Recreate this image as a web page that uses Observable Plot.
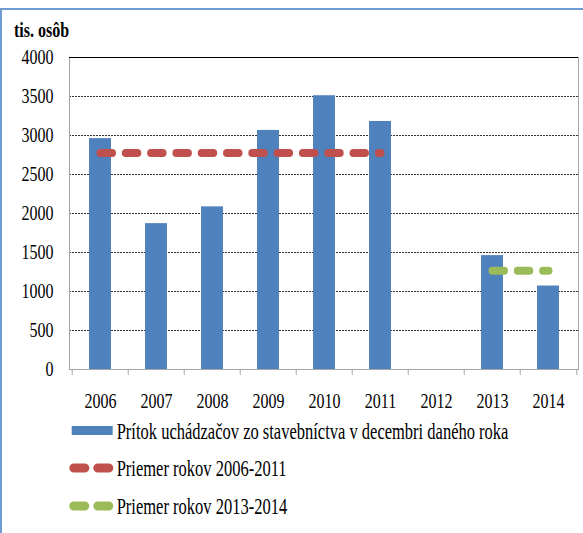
<!DOCTYPE html>
<html>
<head>
<meta charset="utf-8">
<script src="https://cdn.jsdelivr.net/npm/d3@7"></script>
<script src="https://cdn.jsdelivr.net/npm/@observablehq/plot@0.6"></script>
<style>
  html, body { margin: 0; padding: 0; background: #fff; overflow: hidden; }
  #wrap { position: relative; width: 583px; height: 533px; overflow: hidden; font-family: "Liberation Serif", "Times New Roman", serif; color: #000; }
  #border { position: absolute; left: 0px; top: 8px; width: 700px; height: 700px; border-left: 2px solid #6F9BD3; border-top: 2px solid #6F9BD3; }
  #plot { position: absolute; left: 0; top: 0; }
  .ttl { position: absolute; left: 14px; top: 23.9px; font-size: 16px; line-height: 16px; font-weight: bold; white-space: nowrap; transform: scaleY(1.25); transform-origin: 0 13.4px; }
  .lgtext { position: absolute; left: 116.7px; font-size: 16.5px; line-height: 16px; white-space: nowrap; transform: scaleY(1.35); transform-origin: 0 13.6px; }
  .sw { position: absolute; left: 0; top: 0; }
</style>
</head>
<body>
<div id="wrap">
  <div id="border"></div>
  <div id="plot"></div>
  <div class="ttl">tis. osôb</div>
</div>
<script>
// ---- data ----
const years = ["2006", "2007", "2008", "2009", "2010", "2011", "2012", "2013", "2014"];
const inflow = [2960, 1870, 2085, 3065, 3510, 3180, null, 1460, 1070];
const avg1Years = ["2006", "2011"];
const avg1Values = [2775, 2775];
const avg2Years = ["2013", "2014"];
const avg2Values = [1265, 1265];
const yTicks = [0, 500, 1000, 1500, 2000, 2500, 3000, 3500, 4000];
const legendLabels = [
  "Prítok uchádzačov zo stavebníctva v decembri daného roka",
  "Priemer rokov 2006-2011",
  "Priemer rokov 2013-2014"
];
const colors = { bar: "#4F81BD", avg1: "#C0504D", avg2: "#9BBB59" };

const bars = years.map((y, i) => ({ year: y, value: inflow[i] })).filter(d => d.value != null);
const line1 = avg1Years.map((y, i) => ({ year: y, value: avg1Values[i] }));
const line2 = avg2Years.map((y, i) => ({ year: y, value: avg2Values[i] }));

const W = 583, H = 420, mL = 69, mR = 5, mT = 57, mB = 51;
const bw = (W - mL - mR) / years.length;

const chart = Plot.plot({
  width: W,
  height: H,
  marginLeft: mL,
  marginRight: mR,
  marginTop: mT,
  marginBottom: mB,
  style: { fontFamily: "'Liberation Serif', 'Times New Roman', serif", fontSize: "16px", color: "#000", background: "transparent", overflow: "visible" },
  x: { domain: years, padding: 0, label: null, axis: null },
  y: { domain: [0, 4000], label: null, axis: null },
  marks: [
    Plot.gridY(yTicks.filter(v => v > 0 && v < 4000), { stroke: "#333", strokeOpacity: 1, strokeWidth: 1, strokeDasharray: "2,1" }),
    Plot.frame({ stroke: "#A6A6A6" }),
    Plot.ruleY([4000], { stroke: "#000", strokeWidth: 1.2 }),
    Plot.axisY({ ticks: yTicks, tickSize: 0, tickPadding: 16, fontSize: 16, tickFormat: d => String(d), label: null }),
    Plot.axisX({ tickSize: 6, tickFormat: () => "", dx: -bw / 2, stroke: "#A6A6A6", label: null }),
    Plot.axisX({ ticks: [years[years.length - 1]], tickSize: 6, tickFormat: () => "", dx: bw / 2, stroke: "#A6A6A6", label: null }),
    Plot.axisX({ tickSize: 0, tickPadding: 23.5, fontSize: 16, label: null }),
    Plot.barY(bars, { x: "year", y: "value", fill: colors.bar, insetLeft: 17, insetRight: 17 }),
    Plot.lineY(line1, { x: "year", y: "value", stroke: colors.avg1, strokeWidth: 8, strokeDasharray: "11.5,13.8", strokeLinecap: "round" }),
    Plot.lineY(line2, { x: "year", y: "value", stroke: colors.avg2, strokeWidth: 8, strokeDasharray: "11.5,13.8", strokeLinecap: "round" })
  ]
});

// stretch axis labels vertically like the reference rendering
chart.querySelectorAll('g[aria-label$="tick label"] text').forEach(t => {
  const tr = t.getAttribute("transform") || "";
  t.setAttribute("transform", tr + " scale(1,1.3)");
});
document.getElementById("plot").appendChild(chart);

// ---- legend (HTML + small swatches) ----
const wrap = document.getElementById("wrap");
const ns = "http://www.w3.org/2000/svg";
const sw = document.createElementNS(ns, "svg");
sw.setAttribute("class", "sw");
sw.setAttribute("width", 583);
sw.setAttribute("height", 533);
const r = document.createElementNS(ns, "rect");
r.setAttribute("x", 71.7); r.setAttribute("y", 426); r.setAttribute("width", 41); r.setAttribute("height", 9);
r.setAttribute("fill", colors.bar);
sw.appendChild(r);
[[468, colors.avg1], [506, colors.avg2]].forEach(([y, c]) => {
  const l = document.createElementNS(ns, "line");
  l.setAttribute("x1", 73.8); l.setAttribute("x2", 108.8);
  l.setAttribute("y1", y); l.setAttribute("y2", y);
  l.setAttribute("stroke", c); l.setAttribute("stroke-width", 9);
  l.setAttribute("stroke-dasharray", "11,13"); l.setAttribute("stroke-linecap", "round");
  sw.appendChild(l);
});
wrap.appendChild(sw);
const tops = [425.7, 463.1, 501.4];
legendLabels.forEach((txt, i) => {
  const d = document.createElement("div");
  d.className = "lgtext";
  d.style.top = tops[i] + "px";
  d.textContent = txt;
  wrap.appendChild(d);
});
</script>
</body>
</html>
